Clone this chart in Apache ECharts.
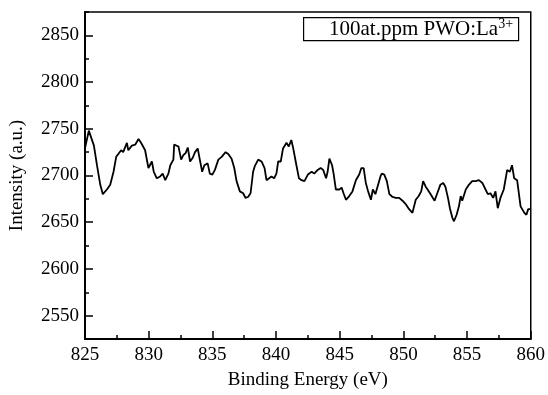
<!DOCTYPE html>
<html>
<head>
<meta charset="utf-8">
<script src="https://cdn.jsdelivr.net/npm/echarts@6/dist/echarts.min.js"></script>
<style>html,body{margin:0;padding:0;background:#fff}#c{width:548px;height:395px}</style>
</head>
<body>
<div id="c"></div>
<script>
var energy = [825.0,825.3,825.45,825.7,825.94,826.2,826.4,826.5,826.72,826.98,827.24,827.45,827.6,827.84,828.0,828.29,828.4,828.68,828.94,829.2,829.4,829.72,829.98,830.25,830.4,830.64,830.9,831.1,831.3,831.55,831.7,831.94,832.0,832.34,832.55,832.73,832.9,833.07,833.25,833.46,833.64,833.85,834.0,834.2,834.37,834.63,834.8,835.0,835.2,835.47,835.73,836.04,836.25,836.51,836.72,836.9,837.16,837.42,837.6,837.8,838.0,838.2,838.33,838.6,838.86,839.1,839.25,839.4,839.64,839.85,840.03,840.17,840.37,840.55,840.82,841.0,841.2,841.35,841.6,841.8,842.0,842.23,842.5,842.8,843.0,843.27,843.5,843.7,843.93,844.05,844.19,844.4,844.52,844.7,844.97,845.15,845.3,845.49,845.75,846.0,846.27,846.53,846.7,846.88,847.05,847.23,847.45,847.6,847.8,847.97,848.2,848.3,848.5,848.7,848.9,849.15,849.4,849.67,849.93,850.2,850.45,850.71,850.84,850.97,851.2,851.4,851.55,851.75,851.9,852.14,852.45,852.66,852.9,853.13,853.3,853.5,853.65,853.84,853.97,854.18,854.36,854.5,854.62,854.9,855.14,855.4,855.67,855.93,856.2,856.45,856.63,856.84,857.05,857.23,857.41,857.62,857.88,858.15,858.36,858.53,858.7,858.93,859.06,859.2,859.5,859.66,859.8,860.0];
var intensity = [2729,2748,2746,2732,2711,2690,2680,2680,2685,2690,2704,2720,2722,2727,2725,2735,2727,2732,2733,2739,2735,2727,2708,2715,2704,2697,2699,2702,2695,2702,2711,2717,2733,2731,2717,2722,2724,2730,2715,2719,2725,2729,2718,2704,2711,2713,2702,2701,2706,2717,2720,2725,2723,2718,2708,2694,2683,2681,2676,2677,2681,2704,2710,2717,2715,2708,2695,2697,2699,2697,2702,2715,2715,2729,2735,2731,2738,2729,2711,2697,2695,2694,2701,2704,2702,2706,2708,2706,2697,2704,2718,2711,2702,2685,2685,2687,2681,2674,2678,2683,2695,2701,2708,2708,2692,2683,2674,2685,2680,2688,2699,2702,2701,2694,2680,2677,2676,2676,2673,2669,2664,2660,2662,2674,2678,2683,2694,2688,2685,2680,2673,2681,2690,2692,2688,2676,2665,2655,2651,2658,2667,2678,2673,2685,2690,2694,2694,2695,2692,2685,2680,2681,2676,2683,2665,2676,2685,2706,2704,2711,2697,2695,2694,2667,2660,2658,2664,2664];
var yTickLabels = [2550,2600,2650,2700,2750,2800,2850];
var xTickLabels = [825,830,835,840,845,850,855,860];
var legendMain = '100at.ppm PWO:La';
var legendSup = '3+';

var data = energy.map(function(x, i){ return [x, intensity[i]]; });
var font = 'Liberation Serif';
var chart = echarts.init(document.getElementById('c'), null, {renderer: 'canvas'});
chart.setOption({
  animation: false,
  backgroundColor: '#fff',
  grid: {left: 85, right: 16, top: 12, bottom: 53, show: true, borderColor: '#000', borderWidth: 1.5, containLabel: false},
  xAxis: {
    type: 'value', min: 825, max: 860, interval: 5,
    name: 'Binding Energy (eV)', nameLocation: 'middle', nameGap: 32,
    nameTextStyle: {fontFamily: font, fontSize: 19, color: '#000'},
    axisLine: {show: true, onZero: false, lineStyle: {color: '#000', width: 2}},
    axisTick: {show: true, inside: true, length: 8, lineStyle: {color: '#000', width: 1.5}},
    minorTick: {show: true, splitNumber: 2, length: 4, lineStyle: {color: '#000', width: 1.5}},
    axisLabel: {fontFamily: font, fontSize: 19, color: '#000', margin: 7,
      formatter: function(v){ return xTickLabels.indexOf(v) >= 0 ? String(v) : ''; }},
    splitLine: {show: false}
  },
  yAxis: [{
    type: 'value', min: 2525, max: 2875, interval: 25,
    name: 'Intensity (a.u.)', nameLocation: 'middle', nameGap: 58,
    nameTextStyle: {fontFamily: font, fontSize: 19, color: '#000'},
    axisLine: {show: true, onZero: false, lineStyle: {color: '#000', width: 2}},
    axisTick: {show: true, inside: true, length: 4, lineStyle: {color: '#000', width: 1.5}},
    axisLabel: {fontFamily: font, fontSize: 19, color: '#000', margin: 6,
      formatter: function(v){ return yTickLabels.indexOf(v) >= 0 ? String(v) : ''; }},
    splitLine: {show: false}
  }, {
    type: 'value', min: 2525, max: 2875, position: 'left',
    axisLine: {show: false},
    axisTick: {show: true, inside: true, length: 8, customValues: yTickLabels, lineStyle: {color: '#000', width: 1.5}},
    axisLabel: {show: false},
    splitLine: {show: false}
  }],
  graphic: [{
    type: 'rect', left: 303, top: 17, shape: {width: 215, height: 23},
    style: {fill: '#fff', stroke: '#000', lineWidth: 1.2}, z: 10
  }, {
    type: 'text', left: 329, top: 17, z: 11,
    style: {
      text: '{a|' + legendMain + '}{s|' + legendSup + '}',
      rich: {
        a: {fontFamily: font, fontSize: 21, color: '#000', lineHeight: 23, verticalAlign: 'bottom'},
        s: {fontFamily: font, fontSize: 14, color: '#000', lineHeight: 14, verticalAlign: 'top'}
      }
    }
  }],
  series: [{
    type: 'line', data: data, yAxisIndex: 0, showSymbol: false, symbol: 'none',
    lineStyle: {color: '#000', width: 1.8}, z: 5
  }]
});
</script>
</body>
</html>
